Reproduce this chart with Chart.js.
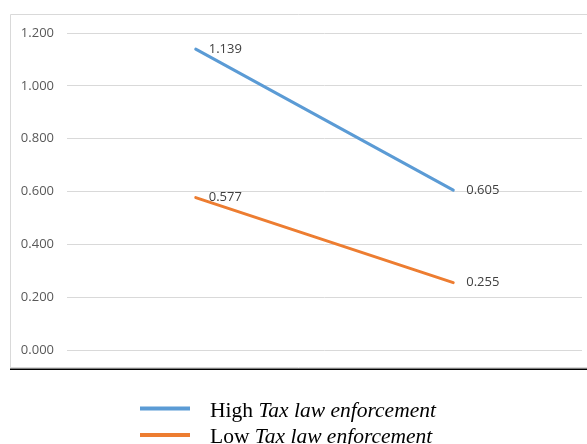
<!DOCTYPE html>
<html>
<head>
<meta charset="utf-8">
<script src="https://cdn.jsdelivr.net/npm/chart.js@4"></script>
<style>
  html, body { margin: 0; padding: 0; background: #ffffff; }
  #wrap { width: 587px; height: 444px; position: relative; }
</style>
</head>
<body>
<div id="wrap"><canvas id="chart" width="587" height="444"></canvas></div>
<script>
// Interaction plot: two moderator levels across two predictor levels
const categories = ["Low", "High"];
const seriesLevels = ["High", "Low"];
const moderatorName = "Tax law enforcement";
const highValues = [1.139, 0.605];
const lowValues = [0.577, 0.255];
const seriesColors = ["#5b9bd5", "#ed7d31"];
const yTicks = { min: 0, max: 1.2, step: 0.2 };

// Light frame around the plot with a dark base rule
const framePlugin = {
  id: "frame",
  beforeDraw(chart) {
    const ctx = chart.ctx;
    ctx.save();
    ctx.strokeStyle = "#d9d9d9";
    ctx.lineWidth = 1;
    ctx.beginPath();
    ctx.moveTo(10.5, 367.5);
    ctx.lineTo(10.5, 14.5);
    ctx.lineTo(587, 14.5);
    ctx.stroke();
    ctx.beginPath();
    ctx.moveTo(10, 367.5);
    ctx.lineTo(587, 367.5);
    ctx.stroke();
    ctx.strokeStyle = "#000000";
    ctx.lineWidth = 1.6;
    ctx.beginPath();
    ctx.moveTo(10, 369.3);
    ctx.lineTo(587, 369.3);
    ctx.stroke();
    ctx.restore();
  }
};

// Value labels to the right of each point
const valueLabelPlugin = {
  id: "valueLabels",
  afterDatasetsDraw(chart) {
    const ctx = chart.ctx;
    ctx.save();
    ctx.font = "13px 'Open Sans'";
    ctx.fillStyle = "#404040";
    ctx.textAlign = "left";
    ctx.textBaseline = "middle";
    chart.data.datasets.forEach((ds, i) => {
      chart.getDatasetMeta(i).data.forEach((pt, j) => {
        ctx.fillText(ds.data[j].toFixed(3), pt.x + 13, pt.y);
      });
    });
    ctx.restore();
  }
};

// Legend below the frame: level in roman, moderator name in italics
const legendPlugin = {
  id: "mixedLegend",
  afterDraw(chart) {
    const ctx = chart.ctx;
    ctx.save();
    chart.data.datasets.forEach((ds, i) => {
      const y = 408.5 + i * 26.5;
      ctx.strokeStyle = ds.borderColor;
      ctx.lineWidth = 4;
      ctx.beginPath();
      ctx.moveTo(140, y);
      ctx.lineTo(190, y);
      ctx.stroke();
      ctx.fillStyle = "#000000";
      ctx.textBaseline = "alphabetic";
      ctx.textAlign = "left";
      ctx.font = "21.5px 'Liberation Serif'";
      const lead = seriesLevels[i] + " ";
      ctx.fillText(lead, 210, y + 8.3);
      const w = ctx.measureText(lead).width;
      ctx.font = "italic 21.5px 'Liberation Serif'";
      ctx.fillText(moderatorName, 210 + w, y + 8.3);
    });
    ctx.restore();
  }
};

new Chart(document.getElementById("chart"), {
  type: "line",
  data: {
    labels: categories,
    datasets: [
      {
        label: seriesLevels[0] + " " + moderatorName,
        data: highValues,
        borderColor: seriesColors[0],
        backgroundColor: seriesColors[0],
        borderWidth: 3,
        pointRadius: 0,
        tension: 0,
        borderCapStyle: "round"
      },
      {
        label: seriesLevels[1] + " " + moderatorName,
        data: lowValues,
        borderColor: seriesColors[1],
        backgroundColor: seriesColors[1],
        borderWidth: 3,
        pointRadius: 0,
        tension: 0,
        borderCapStyle: "round"
      }
    ]
  },
  options: {
    responsive: false,
    animation: false,
    devicePixelRatio: 1,
    layout: { padding: { top: 33, right: 5, bottom: 94, left: 0 } },
    plugins: {
      legend: { display: false },
      tooltip: { enabled: false },
      title: { display: false }
    },
    scales: {
      x: {
        display: false,
        offset: true
      },
      y: {
        min: yTicks.min,
        max: yTicks.max,
        border: { display: false },
        grid: { color: "#d9d9d9", lineWidth: 1, drawTicks: false },
        ticks: {
          stepSize: yTicks.step,
          padding: 13,
          color: "#595959",
          font: { family: "'Open Sans'", size: 13 },
          callback: (v) => Number(v).toFixed(3)
        },
        afterFit(scale) { scale.width = 67; }
      }
    }
  },
  plugins: [framePlugin, valueLabelPlugin, legendPlugin]
});
</script>
</body>
</html>
